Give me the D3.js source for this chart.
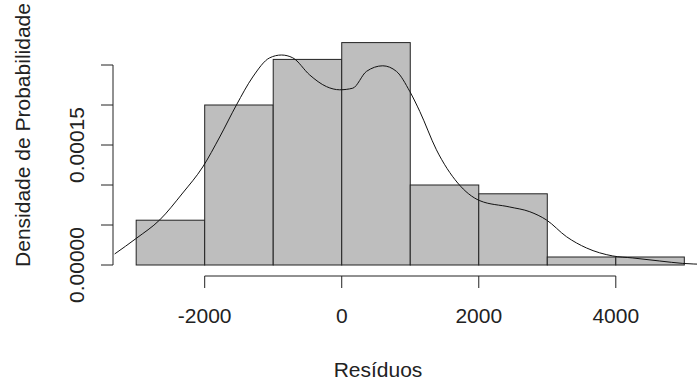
<!DOCTYPE html>
<html>
<head>
<meta charset="utf-8">
<script src="https://cdn.jsdelivr.net/npm/d3@7"></script>
<style>
  body { margin: 0; background: #fff; }
  svg text { font-family: "Liberation Sans", Arial, sans-serif; fill: #222; }
</style>
</head>
<body>
<svg id="chart" width="697" height="383"></svg>
<script>
// histogram bins (breaks) and density heights
var breaks = [-3000, -2000, -1000, 0, 1000, 2000, 3000, 4000, 5000];
var densities = [0.000056, 0.0002, 0.000257, 0.000278, 0.0001, 0.000089, 0.00001, 0.00001];

// kernel density curve
var curveX = [-3314, -2997, -2657, -2321, -2029, -1781, -1537, -1299, -1051, -880, -715, -467,
              -223, -29, 161, 361, 599, 799, 993, 1139, 1382, 1693, 2015, 2453, 2745, 2988,
              3280, 3572, 3956, 4248, 4642, 4978, 5300];
var curveY = [0.0000138, 0.0000334, 0.0000563, 0.00009, 0.0001225, 0.00016, 0.0002, 0.000235,
              0.000259, 0.0002625, 0.000259, 0.0002375, 0.000223, 0.000219, 0.000221, 0.000242,
              0.000249, 0.000242, 0.000217, 0.000192, 0.000144, 0.0001025, 0.0000804, 0.0000725,
              0.0000666, 0.0000563, 0.0000354, 0.0000213, 0.0000113, 0.0000088, 0.000005,
              0.000002, 0.0000008];

var xTicks = [-2000, 0, 2000, 4000];
var yTicks = [0, 0.00005, 0.0001, 0.00015, 0.0002, 0.00025];
var yLabels = {0: "0.00000", 0.00015: "0.00015"};

var svg = d3.select("#chart");
var x = d3.scaleLinear().domain([-2000, 4000]).range([204.7, 615.8]);
var y = d3.scaleLinear().domain([0, 0.00025]).range([265, 65]);

var bins = densities.map(function(d, i){ return {x0: breaks[i], x1: breaks[i+1], d: d}; });

svg.selectAll("rect.bar")
  .data(bins)
  .enter()
  .append("rect")
    .attr("class", "bar")
    .attr("x", function(b){ return x(b.x0); })
    .attr("width", function(b){ return x(b.x1) - x(b.x0); })
    .attr("y", function(b){ return y(b.d); })
    .attr("height", function(b){ return y(0) - y(b.d); })
    .style("fill", "#bebebe")
    .style("stroke", "#222")
    .style("stroke-width", 1);

svg.append("clipPath").attr("id", "plotclip")
  .append("rect").attr("x", 113).attr("y", 0).attr("width", 600).attr("height", 275);

var line = d3.line()
  .x(function(d){ return x(d[0]); })
  .y(function(d){ return y(d[1]); })
  .curve(d3.curveMonotoneX);

svg.append("path")
  .datum(curveX.map(function(v, i){ return [v, curveY[i]]; }))
  .attr("clip-path", "url(#plotclip)")
  .attr("d", line)
  .style("fill", "none")
  .style("stroke", "#111")
  .style("stroke-width", 1);

// x axis
var xAxis = svg.append("g").attr("transform", "translate(0,276)");
xAxis.append("line")
  .attr("x1", x(xTicks[0])).attr("x2", x(xTicks[xTicks.length-1]))
  .attr("y1", 0).attr("y2", 0)
  .style("stroke", "#222");
xAxis.selectAll("line.tick")
  .data(xTicks)
  .enter()
  .append("line")
    .attr("class", "tick")
    .attr("x1", function(d){ return x(d); }).attr("x2", function(d){ return x(d); })
    .attr("y1", 0).attr("y2", 12)
    .style("stroke", "#222");
xAxis.selectAll("text")
  .data(xTicks)
  .enter()
  .append("text")
    .attr("x", function(d){ return x(d); })
    .attr("y", 47)
    .attr("text-anchor", "middle")
    .style("font-size", "21px")
    .text(function(d){ return d; });

// y axis
var yAxis = svg.append("g").attr("transform", "translate(113,0)");
yAxis.append("line")
  .attr("x1", 0).attr("x2", 0)
  .attr("y1", y(0)).attr("y2", y(0.00025))
  .style("stroke", "#222");
yAxis.selectAll("line.tick")
  .data(yTicks)
  .enter()
  .append("line")
    .attr("class", "tick")
    .attr("x1", 0).attr("x2", -12)
    .attr("y1", function(d){ return y(d); }).attr("y2", function(d){ return y(d); })
    .style("stroke", "#222");
yAxis.selectAll("text")
  .data(yTicks.filter(function(d){ return yLabels[d] !== undefined; }))
  .enter()
  .append("text")
    .attr("transform", function(d){ return "translate(-29," + y(d) + ") rotate(-90)"; })
    .attr("text-anchor", "middle")
    .style("font-size", "21px")
    .text(function(d){ return yLabels[d]; });

// axis titles
svg.append("text")
  .attr("x", 378).attr("y", 377)
  .attr("text-anchor", "middle")
  .style("font-size", "21px")
  .text("Resíduos");

svg.append("text")
  .attr("transform", "translate(30,135) rotate(-90)")
  .attr("text-anchor", "middle")
  .style("font-size", "21px")
  .text("Densidade de Probabilidade");
</script>
</body>
</html>
